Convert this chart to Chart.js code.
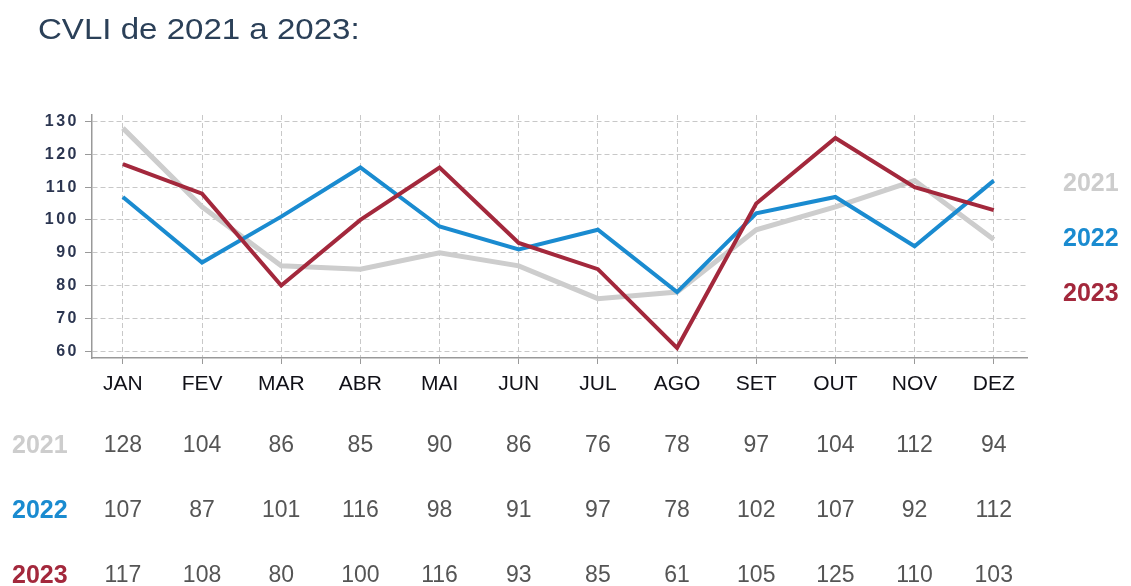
<!DOCTYPE html>
<html>
<head>
<meta charset="utf-8">
<script src="https://cdn.jsdelivr.net/npm/chart.js@4"></script>
<style>
  html, body { margin: 0; padding: 0; background: #fff; }
  #wrap { position: relative; width: 1131px; height: 586px; }
  #title { position: absolute; left: 38px; top: 13px; font-family: "Liberation Sans", Arial, sans-serif; font-size: 29px; color: #2b4058; transform: scaleX(1.14); transform-origin: left top; white-space: nowrap; }
  canvas { position: absolute; left: 0; top: 0; }
</style>
</head>
<body>
<div id="wrap">
  <canvas id="cvliChart" width="1131" height="586"></canvas>
  <div id="title">CVLI de 2021 a 2023:</div>
</div>
<script>
var months = ["JAN", "FEV", "MAR", "ABR", "MAI", "JUN", "JUL", "AGO", "SET", "OUT", "NOV", "DEZ"];
var years = ["2021", "2022", "2023"];
var cvli2021 = [128, 104, 86, 85, 90, 86, 76, 78, 97, 104, 112, 94];
var cvli2022 = [107, 87, 101, 116, 98, 91, 97, 78, 102, 107, 92, 112];
var cvli2023 = [117, 108, 80, 100, 116, 93, 85, 61, 105, 125, 110, 103];
var yTicks = [60, 70, 80, 90, 100, 110, 120, 130];
var colors = ["#cdcdcd", "#1a8bd0", "#a3283c"];

var font = '"Liberation Sans", Arial, sans-serif';

function toPoints(arr) {
    return arr.map(function (v, i) { return {x: i, y: v}; });
}

// table under the chart + year labels on the right
var tablePlugin = {
    id: 'tablePlugin',
    afterDatasetsDraw: function (chart) {
        // y tick labels are drawn after this (z: 1), they are spaced out
        chart.ctx.letterSpacing = '2.5px';
    },
    afterDraw: function (chart) {
        var ctx = chart.ctx;
        var xs = chart.scales.x;
        var series = [cvli2021, cvli2022, cvli2023];
        var rowY = [446, 511, 576];
        var legendY = [184, 239, 294];
        ctx.letterSpacing = '0px';
        ctx.save();
        ctx.textBaseline = 'middle';
        for (var r = 0; r < series.length; r++) {
            ctx.font = 'bold 25px ' + font;
            ctx.fillStyle = colors[r];
            ctx.textAlign = 'left';
            ctx.fillText(years[r], 12, rowY[r]);
            ctx.fillText(years[r], 1063, legendY[r]);
            ctx.font = '23px ' + font;
            ctx.fillStyle = '#555';
            ctx.textAlign = 'center';
            for (var i = 0; i < series[r].length; i++) {
                ctx.fillText(String(series[r][i]), xs.getPixelForValue(i), rowY[r]);
            }
        }
        ctx.restore();
    }
};

var chartElem = document.getElementById("cvliChart");
var cvliChart = new Chart(chartElem, {
    type: 'line',
    data: {
        datasets: [
            {label: years[0], data: toPoints(cvli2021), borderColor: colors[0], borderWidth: 5, order: 3},
            {label: years[1], data: toPoints(cvli2022), borderColor: colors[1], borderWidth: 4, order: 2},
            {label: years[2], data: toPoints(cvli2023), borderColor: colors[2], borderWidth: 4, order: 1}
        ]
    },
    options: {
        responsive: false,
        animation: false,
        events: [],
        elements: {
            point: {radius: 0},
            line: {tension: 0, fill: false, borderJoinStyle: 'miter'}
        },
        layout: {padding: {left: 0, top: 115, right: 104, bottom: 0}},
        plugins: {legend: {display: false}, title: {display: false}, tooltip: {enabled: false}},
        scales: {
            x: {
                type: 'linear',
                min: -0.39,
                max: 11.42,
                afterBuildTicks: function (scale) {
                    scale.ticks = months.map(function (m, i) { return {value: i}; });
                },
                afterFit: function (scale) { scale.height = 228; },
                ticks: {
                    autoSkip: false,
                    maxRotation: 0,
                    padding: 8,
                    color: '#111118',
                    font: {family: font, size: 21},
                    callback: function (value) { return months[value]; }
                },
                grid: {color: '#c8c8c8', lineWidth: 1, tickLength: 6, tickColor: '#999'},
                border: {display: true, color: '#999', width: 1.5, dash: [5, 3]}
            },
            y: {
                min: 57.9,
                max: 132,
                afterBuildTicks: function (scale) {
                    scale.ticks = yTicks.map(function (v) { return {value: v}; });
                },
                afterFit: function (scale) { scale.width = 92; },
                ticks: {
                    z: 1,
                    padding: 6,
                    color: '#2b3550',
                    font: {family: font, size: 16, weight: 'bold'}
                },
                grid: {color: '#c8c8c8', lineWidth: 1, tickLength: 7, tickColor: '#999'},
                border: {display: true, color: '#999', width: 1.5, dash: [5, 3]}
            }
        }
    },
    plugins: [tablePlugin]
});
</script>
</body>
</html>
